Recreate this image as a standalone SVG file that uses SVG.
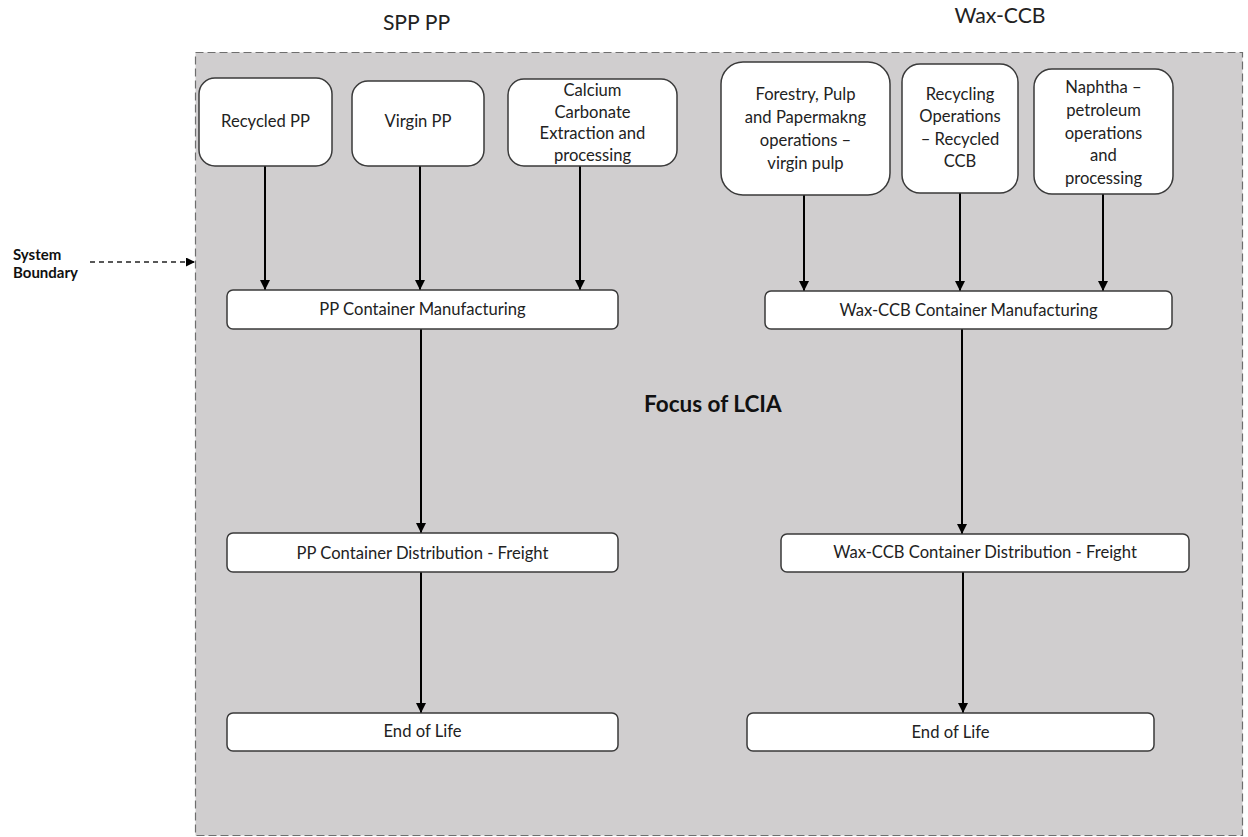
<svg xmlns="http://www.w3.org/2000/svg" width="1248" height="837" viewBox="0 0 1248 837">
<style>
.bg{fill:#ffffff}
.boundary{fill:#d0cecf;stroke:#6e6e6e;stroke-width:1.2;stroke-dasharray:8 4}
.node{fill:#ffffff;stroke:#3a3a3a;stroke-width:1.5}
.t{font-family:Lato,"Open Sans","Liberation Sans",sans-serif;font-size:16.6px;fill:#222;text-anchor:middle}
.title{font-family:Lato,"Open Sans","Liberation Sans",sans-serif;font-size:21.2px;fill:#222;text-anchor:middle}
.bold{font-family:Lato,"Open Sans","Liberation Sans",sans-serif;font-weight:bold;fill:#111}
.conn{stroke:#000;stroke-width:2;fill:none;marker-end:url(#ah)}
.dash{stroke:#222;stroke-width:1.5;fill:none;stroke-dasharray:5 4;marker-end:url(#ah2)}
</style>
<defs>
<marker id="ah" viewBox="0 0 10 10" refX="10" refY="5" markerWidth="5" markerHeight="5" markerUnits="strokeWidth" orient="auto">
<path d="M0,0 L10,5 L0,10 z" fill="#000"/>
</marker>
<marker id="ah2" viewBox="0 0 10 10" refX="10" refY="5" markerWidth="6" markerHeight="6" markerUnits="strokeWidth" orient="auto">
<path d="M0,0 L10,5 L0,10 z" fill="#000"/>
</marker>
</defs>
<rect class="bg" x="0" y="0" width="1248" height="837"/>
<rect id="system-boundary" class="boundary" x="195.5" y="52.5" width="1047" height="783"/>

<text class="title" x="416.5" y="30">SPP PP</text>
<text class="title" x="1000" y="23">Wax-CCB</text>

<g id="label-system-boundary">
<text class="bold" x="13" y="260" font-size="15">System</text>
<text class="bold" x="13" y="278" font-size="15">Boundary</text>
</g>
<text id="label-focus" class="bold" x="644" y="412" font-size="22.5">Focus of LCIA</text>

<g id="connectors">
<line class="dash" x1="90" y1="262" x2="195" y2="262"/>
<line class="conn" x1="265" y1="166" x2="265" y2="290"/>
<line class="conn" x1="420" y1="166" x2="420" y2="290"/>
<line class="conn" x1="580" y1="166" x2="580" y2="290"/>
<line class="conn" x1="804" y1="195" x2="804" y2="291"/>
<line class="conn" x1="960" y1="193" x2="960" y2="291"/>
<line class="conn" x1="1103" y1="194" x2="1103" y2="291"/>
<line class="conn" x1="421" y1="329" x2="421" y2="533"/>
<line class="conn" x1="962" y1="329" x2="962" y2="534"/>
<line class="conn" x1="421" y1="572" x2="421" y2="713"/>
<line class="conn" x1="963" y1="572" x2="963" y2="713"/>
</g>

<g id="recycled-pp">
<rect class="node" x="199" y="78" width="133" height="88" rx="16"/>
<text class="t" x="265.5" y="127">Recycled PP</text>
</g>
<g id="virgin-pp">
<rect class="node" x="352" y="81" width="132" height="85" rx="16"/>
<text class="t" x="418" y="127">Virgin PP</text>
</g>
<g id="calcium">
<rect class="node" x="508" y="79" width="169" height="87" rx="16"/>
<text class="t" x="592.5" y="96">Calcium</text>
<text class="t" x="592.5" y="118">Carbonate</text>
<text class="t" x="592.5" y="139">Extraction and</text>
<text class="t" x="592.5" y="161">processing</text>
</g>
<g id="forestry">
<rect class="node" x="721" y="62" width="169" height="133" rx="22"/>
<text class="t" x="805.5" y="100">Forestry, Pulp</text>
<text class="t" x="805.5" y="123">and Papermakng</text>
<text class="t" x="805.5" y="146">operations –</text>
<text class="t" x="805.5" y="169">virgin pulp</text>
</g>
<g id="recycling-ops">
<rect class="node" x="902" y="64" width="116" height="129" rx="18"/>
<text class="t" x="960" y="100">Recycling</text>
<text class="t" x="960" y="122">Operations</text>
<text class="t" x="960" y="145">– Recycled</text>
<text class="t" x="960" y="167">CCB</text>
</g>
<g id="naphtha">
<rect class="node" x="1034" y="69" width="139" height="125" rx="18"/>
<text class="t" x="1103.5" y="93">Naphtha –</text>
<text class="t" x="1103.5" y="116">petroleum</text>
<text class="t" x="1103.5" y="139">operations</text>
<text class="t" x="1103.5" y="161">and</text>
<text class="t" x="1103.5" y="184">processing</text>
</g>

<g id="pp-manufacturing">
<rect class="node" x="227" y="290" width="391" height="39" rx="6"/>
<text class="t" x="422.5" y="315">PP Container Manufacturing</text>
</g>
<g id="wax-manufacturing">
<rect class="node" x="765" y="291" width="407" height="38" rx="6"/>
<text class="t" x="968.5" y="316">Wax-CCB Container Manufacturing</text>
</g>
<g id="pp-distribution">
<rect class="node" x="227" y="533" width="391" height="39" rx="6"/>
<text class="t" x="422.5" y="559">PP Container Distribution - Freight</text>
</g>
<g id="wax-distribution">
<rect class="node" x="781" y="534" width="408" height="38" rx="6"/>
<text class="t" x="985" y="558">Wax-CCB Container Distribution - Freight</text>
</g>
<g id="pp-eol">
<rect class="node" x="227" y="713" width="391" height="38" rx="6"/>
<text class="t" x="422.5" y="737">End of Life</text>
</g>
<g id="wax-eol">
<rect class="node" x="747" y="713" width="407" height="38" rx="6"/>
<text class="t" x="950.5" y="738">End of Life</text>
</g>
</svg>
